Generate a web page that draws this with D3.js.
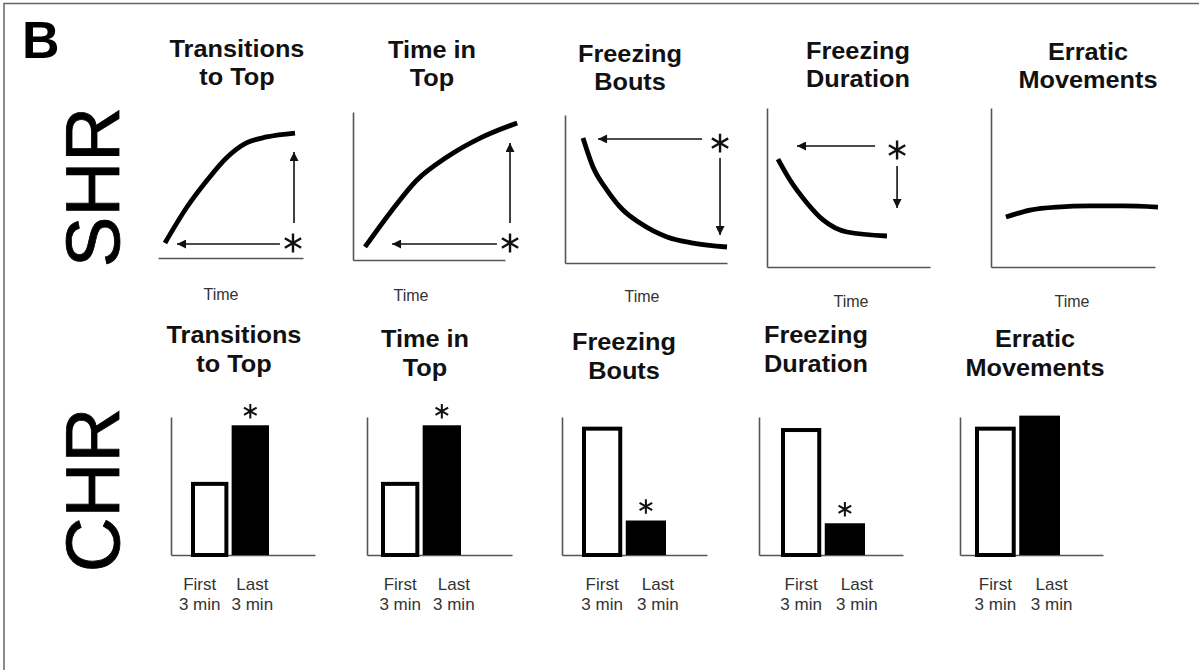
<!DOCTYPE html>
<html>
<head>
<meta charset="utf-8">
<script src="https://cdn.jsdelivr.net/npm/d3@7"></script>
<style>
  body { margin: 0; background: #fff; }
  svg { display: block; font-family: "Liberation Sans", Arial, sans-serif; }
</style>
</head>
<body>
<div class="figure"></div>
<script>
// ---- data ----
const titleLines = [
    ["Transitions", "to Top"],
    ["Time in", "Top"],
    ["Freezing", "Bouts"],
    ["Freezing", "Duration"],
    ["Erratic", "Movements"]
];
// SHR: schematic time courses, [time, value] on a 0-10 scale
const curveTransitions = [[0.48, 1.0], [2.0, 3.4], [3.4, 5.2], [4.75, 6.7], [6.1, 7.67], [7.5, 8.07], [9.45, 8.33]];
const curveTimeInTop = [[0.79, 0.88], [2.43, 3.18], [4.21, 5.41], [6.18, 6.96], [8.36, 8.24], [10.8, 9.26]];
const curveFreezeBouts = [[1.11, 8.45], [1.73, 6.49], [2.59, 4.93], [3.58, 3.58], [4.63, 2.7], [6.3, 1.76], [7.9, 1.35], [10, 1.08]];
const curveFreezeDur = [[0.67, 6.79], [1.41, 5.47], [2.45, 4.03], [3.44, 2.96], [4.91, 2.2], [7.36, 1.95]];
const curveErratic = [[0.91, 3.14], [2.38, 3.58], [4.02, 3.77], [6.04, 3.84], [8.05, 3.84], [10.18, 3.77]];
const timeCurves = [curveTransitions, curveTimeInTop, curveFreezeBouts, curveFreezeDur, curveErratic];
// significance marks: star [t, v], horizontal arrow [tailT, tipT, v], vertical arrow [t, tailV, tipV]
const starPts = [[9.31, 1.0], [10.33, 1.15], [9.57, 8.1], [7.98, 7.36], null];
const hArrows = [[8.41, 1.31, 0.93], [9.47, 2.57, 1.08], [8.46, 2.04, 8.38], [6.63, 1.84, 7.61], null];
const vArrows = [[9.38, 2.33, 7.07], [10.33, 2.5, 7.9], [9.57, 7.09, 1.89], [7.98, 6.35, 3.71], null];

// CHR: first vs last 3 min
const barGroups = ["First 3 min", "Last 3 min"];
const firstVals = [53, 53, 93, 92, 93];
const lastVals = [94, 94, 25, 23, 101];
const sigLast = [true, true, true, true, false];

// ---- layout ----
const topLayout = [
    {x0: 158, x1: 303, y0: 258, y1: 108, yAxis: false, tx: 237, ty: 57, timeX: 221, timeY: 300},
    {x0: 353, x1: 505, y0: 260, y1: 112, yAxis: true, tx: 432, ty: 58, timeX: 411, timeY: 301},
    {x0: 565, x1: 727, y0: 263, y1: 115, yAxis: true, tx: 630, ty: 62, timeX: 642, timeY: 302},
    {x0: 767, x1: 930, y0: 267, y1: 108, yAxis: true, tx: 858, ty: 59, timeX: 851, timeY: 307},
    {x0: 991, x1: 1155, y0: 267, y1: 108, yAxis: true, tx: 1088, ty: 60, timeX: 1072, timeY: 307}
];
const botLayout = [
    {ax: 171, right: 315, barX: 191, barW: 78, tx: 234, ty: 343, labDx: -10},
    {ax: 367, right: 512, barX: 381, barW: 80, tx: 425, ty: 347, labDx: 0},
    {ax: 562, right: 707, barX: 582, barW: 84, tx: 624, ty: 350, labDx: 0},
    {ax: 759, right: 903, barX: 781, barW: 84, tx: 816, ty: 343, labDx: 0},
    {ax: 960, right: 1103, barX: 975, barW: 85, tx: 1035, ty: 347, labDx: 0}
];
const barBase = 555, barTop = 417;

let svg = d3.select('.figure')
    .append('svg')
    .attr('width', 1199)
    .attr('height', 670);

svg.append('defs').append('marker')
    .attr('id', 'head')
    .attr('viewBox', '0 0 10 10')
    .attr('refX', 10)
    .attr('refY', 5)
    .attr('markerUnits', 'userSpaceOnUse')
    .attr('markerWidth', 11)
    .attr('markerHeight', 9)
    .attr('orient', 'auto')
    .append('path')
    .attr('d', 'M0,0L10,5L0,10Z')
    .attr('fill', '#111');

// frame
svg.append('path')
    .attr('d', 'M4,670V3.5H1199')
    .attr('fill', 'none')
    .attr('stroke', '#666')
    .attr('stroke-width', 1.5);

svg.append('text')
    .attr('x', 22)
    .attr('y', 58)
    .style('font-size', '52px')
    .style('font-weight', 'bold')
    .text('B');

[['SHR', 187], ['CHR', 490]].forEach(([lab, cy]) => {
    svg.append('text')
        .attr('transform', `translate(119,${cy}) rotate(-90)`)
        .style('text-anchor', 'middle')
        .style('font-size', '76px')
        .attr('stroke', '#000')
        .attr('stroke-width', 0.8)
        .text(lab);
});

function title(g, lines, cx, y, gap) {
    lines.forEach((t, i) => {
        g.append('text')
            .attr('transform', `translate(${cx},${y + i * gap}) scale(1.1,1)`)
            .style('text-anchor', 'middle')
            .style('font-size', '23px')
            .style('font-weight', 'bold')
            .attr('fill', '#111')
            .text(t);
    });
}

function star(g, cx, cy, size, w) {
    g.append('path')
        .attr('transform', `translate(${cx},${cy})`)
        .attr('d', d3.symbol(d3.symbolAsterisk, size)())
        .attr('fill', 'none')
        .attr('stroke', '#111')
        .attr('stroke-width', w);
}

// ---- SHR row ----
topLayout.forEach((p, i) => {
    let g = svg.append('g').attr('class', 'shr');
    let x = d3.scaleLinear([0, 10], [p.x0, p.x1]);
    let y = d3.scaleLinear([0, 10], [p.y0, p.y1]);

    title(g, titleLines[i], p.tx, p.ty, 28);

    g.append('g')
        .attr('transform', `translate(0,${p.y0})`)
        .call(d3.axisBottom(x).tickValues([]).tickSizeOuter(0));
    if (p.yAxis) {
        g.append('g')
            .attr('transform', `translate(${p.x0},0)`)
            .call(d3.axisLeft(y).tickValues([]).tickSizeOuter(0));
    }
    g.selectAll('.domain').attr('stroke', '#555').attr('stroke-width', 1.6);

    g.append('path')
        .datum(timeCurves[i])
        .attr('fill', 'none')
        .attr('stroke', '#000')
        .attr('stroke-width', 4.8)
        .attr('d', d3.line().x(d => x(d[0])).y(d => y(d[1])).curve(d3.curveMonotoneX));

    if (hArrows[i]) {
        let h = hArrows[i];
        g.append('line')
            .attr('x1', x(h[0])).attr('x2', x(h[1]))
            .attr('y1', y(h[2])).attr('y2', y(h[2]))
            .attr('stroke', '#111').attr('stroke-width', 1.6)
            .attr('marker-end', 'url(#head)');
    }
    if (vArrows[i]) {
        let v = vArrows[i];
        g.append('line')
            .attr('x1', x(v[0])).attr('x2', x(v[0]))
            .attr('y1', y(v[1])).attr('y2', y(v[2]))
            .attr('stroke', '#111').attr('stroke-width', 1.6)
            .attr('marker-end', 'url(#head)');
    }
    if (starPts[i]) star(g, x(starPts[i][0]), y(starPts[i][1]), 250, 2.4);

    g.append('text')
        .attr('x', p.timeX)
        .attr('y', p.timeY)
        .style('text-anchor', 'middle')
        .style('font-size', '16px')
        .attr('fill', '#333')
        .text('Time');
});

// ---- CHR row ----
let yBar = d3.scaleLinear([0, 100], [barBase, barTop]);
botLayout.forEach((p, i) => {
    let g = svg.append('g').attr('class', 'chr');
    let x = d3.scaleBand(barGroups, [p.barX, p.barX + p.barW]).paddingInner(0.08);
    let vals = [firstVals[i], lastVals[i]];

    title(g, titleLines[i], p.tx, p.ty, 29);

    let xa = d3.scaleLinear([0, 1], [p.ax, p.right]);
    g.append('g')
        .attr('transform', `translate(0,${barBase})`)
        .call(d3.axisBottom(xa).tickValues([]).tickSizeOuter(0));
    g.append('g')
        .attr('transform', `translate(${p.ax},0)`)
        .call(d3.axisLeft(yBar).tickValues([]).tickSizeOuter(0));
    g.selectAll('.domain').attr('stroke', '#555').attr('stroke-width', 1.6);

    g.selectAll('.bar')
        .data(barGroups)
        .enter().append('rect')
        .attr('class', 'bar')
        .attr('x', d => d === barGroups[0] ? x(d) + 2 : x(d))
        .attr('y', (d, j) => j === 0 ? yBar(vals[j]) + 2 : yBar(vals[j]))
        .attr('width', d => d === barGroups[0] ? x.bandwidth() - 4 : x.bandwidth())
        .attr('height', (d, j) => j === 0 ? barBase - yBar(vals[j]) - 2 : barBase - yBar(vals[j]))
        .attr('fill', (d, j) => j === 0 ? '#fff' : '#000')
        .attr('stroke', '#000')
        .attr('stroke-width', (d, j) => j === 0 ? 4 : 0);

    if (sigLast[i]) {
        star(g, x(barGroups[1]) + x.bandwidth() / 2, yBar(lastVals[i]) - 14, 150, 2);
    }

    barGroups.forEach((lab, j) => {
        let cx = x(lab) + x.bandwidth() / 2 + p.labDx + (j === 1 ? 12 : 0);
        let parts = lab.split(' ');
        let t = g.append('text')
            .attr('y', 590)
            .style('text-anchor', 'middle')
            .style('font-size', '17px')
            .attr('fill', '#333');
        t.append('tspan').attr('x', cx).text(parts[0]);
        t.append('tspan').attr('x', cx).attr('dy', 20).text(parts.slice(1).join(' '));
    });
});
</script>
</body>
</html>
